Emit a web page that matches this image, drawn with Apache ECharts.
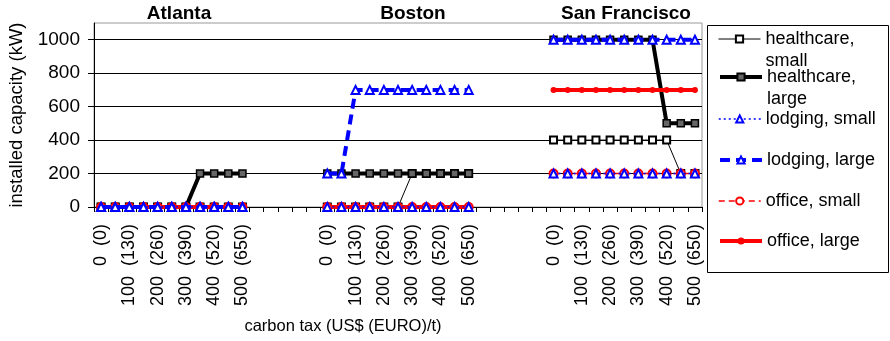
<!DOCTYPE html>
<html>
<head>
<meta charset="utf-8">
<script src="https://cdn.jsdelivr.net/npm/echarts@6/dist/echarts.min.js"></script>
<style>
html,body{margin:0;padding:0;background:#fff;}
#c{width:890px;height:341px;}
</style>
</head>
<body>
<div id="c"></div>
<script>
// ---- data ----
const cities = ['Atlanta', 'Boston', 'San Francisco'];
const taxUSD = [0, 50, 100, 150, 200, 250, 300, 350, 400, 450, 500];
const taxEUR = [0, 65, 130, 195, 260, 325, 390, 455, 520, 585, 650];
const yTicks = [0, 200, 400, 600, 800, 1000];
const gapSize = 5;

const healthcareSmall = [
  [0, 0, 0, 0, 0, 0, 0, 0, 0, 0, 0],
  [0, 0, 0, 0, 0, 0, 200, 200, 200, 200, 200],
  [400, 400, 400, 400, 400, 400, 400, 400, 400, 200, 200]
];
const healthcareLarge = [
  [0, 0, 0, 0, 0, 0, 0, 200, 200, 200, 200],
  [200, 200, 200, 200, 200, 200, 200, 200, 200, 200, 200],
  [1000, 1000, 1000, 1000, 1000, 1000, 1000, 1000, 500, 500, 500]
];
const lodgingSmall = [
  [0, 0, 0, 0, 0, 0, 0, 0, 0, 0, 0],
  [0, 0, 0, 0, 0, 0, 0, 0, 0, 0, 0],
  [200, 200, 200, 200, 200, 200, 200, 200, 200, 200, 200]
];
const lodgingLarge = [
  [0, 0, 0, 0, 0, 0, 0, 0, 0, 0, 0],
  [200, 200, 700, 700, 700, 700, 700, 700, 700, 700, 700],
  [1000, 1000, 1000, 1000, 1000, 1000, 1000, 1000, 1000, 1000, 1000]
];
const officeSmall = [
  [0, 0, 0, 0, 0, 0, 0, 0, 0, 0, 0],
  [0, 0, 0, 0, 0, 0, 0, 0, 0, 0, 0],
  [200, 200, 200, 200, 200, 200, 200, 200, 200, 200, 200]
];
const officeLarge = [
  [0, 0, 0, 0, 0, 0, 0, 0, 0, 0, 0],
  [0, 0, 0, 0, 0, 0, 0, 0, 0, 0, 0],
  [700, 700, 700, 700, 700, 700, 700, 700, 700, 700, 700]
];
const seriesNames = ['healthcare, small', 'healthcare, large', 'lodging, small', 'lodging, large', 'office, small', 'office, large'];

// ---- build category axis & series data ----
const categories = [];
cities.forEach((c, ci) => {
  taxUSD.forEach((t, i) => categories.push(c + '|' + i));
  if (ci < cities.length - 1) for (let g = 0; g < gapSize; g++) categories.push('gap' + ci + '-' + g);
});
function build(arr) {
  const out = [];
  arr.forEach((vals, ci) => {
    vals.forEach(v => out.push(v));
    if (ci < arr.length - 1) for (let g = 0; g < gapSize; g++) out.push(null);
  });
  return out;
}

const FONT = '"Liberation Sans", Arial, sans-serif';
const BLUE = '#0000ff', RED = '#ff0000', BLACK = '#000000';

const styles = [
  {data: healthcareSmall, color: BLACK, width: 1, type: 'solid', symbol: 'emptyRect', size: 7, z: 2},
  {data: healthcareLarge, color: BLACK, width: 4, type: 'solid', symbol: 'rect', size: 7, z: 2, fill: '#666'},
  {data: lodgingSmall, color: BLUE, width: 1.5, type: [2, 3], symbol: 'emptyTriangle', size: 8, z: 4},
  {data: lodgingLarge, color: BLUE, width: 4, type: [10, 6], symbol: 'emptyTriangle', size: 8, z: 4},
  {data: officeSmall, color: RED, width: 1.5, type: [6, 4], symbol: 'emptyCircle', size: 8, z: 3},
  {data: officeLarge, color: RED, width: 4, type: 'solid', symbol: 'circle', size: 6, z: 3}
];

const series = styles.map((s, k) => ({
  name: seriesNames[k],
  type: 'line',
  data: build(s.data),
  connectNulls: false,
  showAllSymbol: true,
  symbol: s.symbol,
  symbolSize: s.size,
  z: s.z,
  lineStyle: {color: s.color, width: s.width, type: s.type},
  itemStyle: s.fill ? {color: s.fill, borderColor: BLACK, borderWidth: 1.5} : {color: s.color, borderWidth: 1.5},
  emphasis: {disabled: true},
  animation: false
}));

const legendCenters = [39, 77, 119, 160, 201, 241];
const legends = seriesNames.map((n, k) => {
  const twoLine = n.startsWith('healthcare');
  return {
    show: true,
    left: 718,
    top: legendCenters[k] - (twoLine ? 33 : 11),
    padding: 0,
    itemWidth: 42,
    itemHeight: 9,
    selectedMode: false,
    data: [n],
    formatter: name => twoLine ? '\n' + name.replace(', ', ',\n') : name,
    textStyle: {fontSize: 18, fontFamily: FONT, color: BLACK, lineHeight: 22},
    lineStyle: {width: styles[k].width}
  };
});

const cityTitleX = [179, 413, 626];

const option = {
  animation: false,
  backgroundColor: '#fff',
  textStyle: {fontFamily: FONT},
  grid: {left: 94, right: 188, top: 23, bottom: 134, show: true, borderColor: '#999', borderWidth: 1, backgroundColor: 'transparent', outerBoundsMode: 'none', containLabel: false},
  legend: legends,
  xAxis: {
    type: 'category',
    data: categories,
    boundaryGap: true,
    axisLine: {show: true, lineStyle: {color: BLACK, width: 1}},
    axisTick: {show: true, interval: 0, length: 5, lineStyle: {color: BLACK}},
    axisLabel: {
      interval: 0, rotate: 90, fontSize: 18, margin: 17, color: BLACK, fontFamily: FONT,
      formatter: v => {
        const p = v.split('|');
        if (p.length < 2) return '';
        const i = +p[1];
        return taxUSD[i] % 100 === 0 ? taxUSD[i] + '  (' + taxEUR[i] + ')' : '';
      }
    },
    splitLine: {show: false}
  },
  yAxis: {
    type: 'value',
    min: 0, max: 1100, interval: 200,
    name: 'installed capacity (kW)',
    nameLocation: 'middle',
    nameGap: 56,
    nameTextStyle: {fontSize: 18.5, color: BLACK, fontFamily: FONT},
    axisLine: {show: true, lineStyle: {color: BLACK, width: 1}},
    axisTick: {show: true, length: 6, lineStyle: {color: BLACK}, customValues: yTicks},
    axisLabel: {fontSize: 19, color: BLACK, margin: 14, fontFamily: FONT, customValues: yTicks, formatter: v => String(v)},
    splitLine: {show: true, lineStyle: {color: '#000', width: 1}}
  },
  graphic: [
    ...cities.map((c, i) => ({
      type: 'text', x: cityTitleX[i], y: 14,
      style: {text: c, fontSize: 19, fontWeight: 'bold', fontFamily: FONT, fill: BLACK, align: 'center', verticalAlign: 'middle'}
    })),
    {type: 'text', x: 343, y: 326, style: {text: 'carbon tax (US$ (EURO)/t)', fontSize: 16.5, fontFamily: FONT, fill: BLACK, align: 'center', verticalAlign: 'middle'}},
    {type: 'rect', shape: {x: 707.5, y: 25.5, width: 181, height: 247}, style: {fill: null, stroke: BLACK, lineWidth: 1}, z: -1}
  ],
  series: series
};

const chart = echarts.init(document.getElementById('c'), null, {renderer: 'canvas'});
chart.setOption(option);
</script>
</body>
</html>
